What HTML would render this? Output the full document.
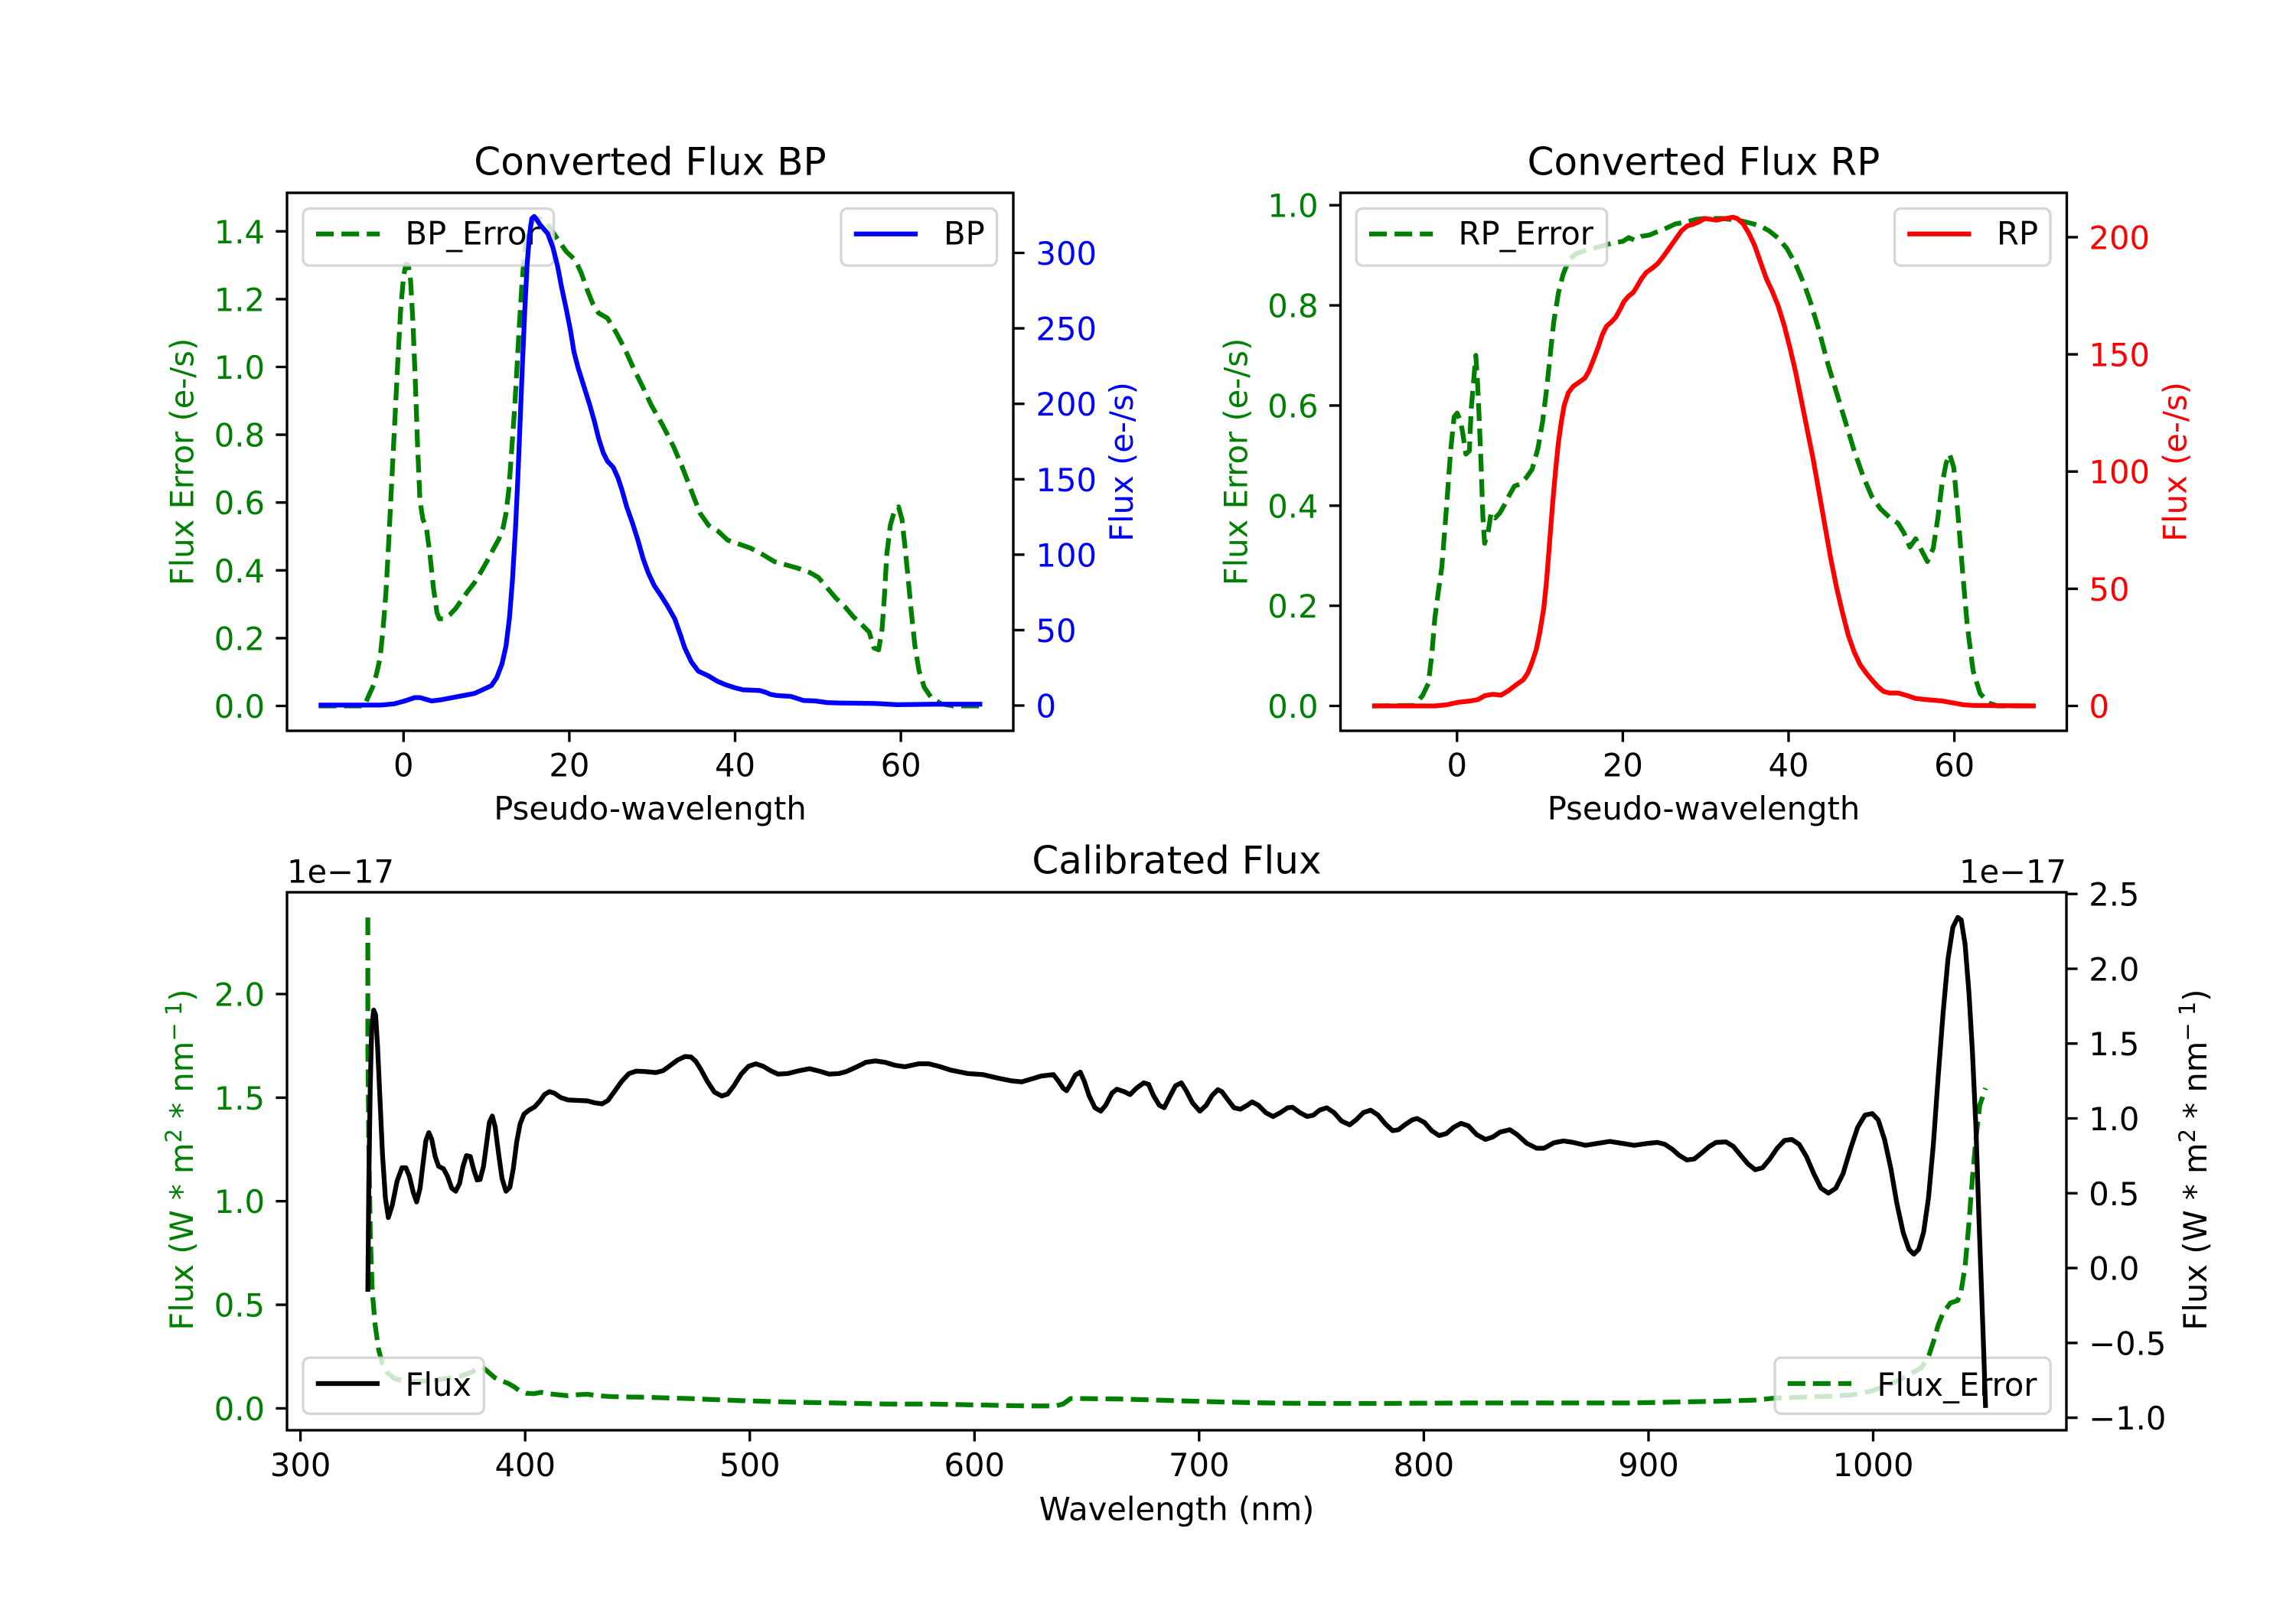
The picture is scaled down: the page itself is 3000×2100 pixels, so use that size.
<!DOCTYPE html>
<html><head><meta charset="utf-8"><style>html,body{margin:0;padding:0;background:#fff}svg{display:block}</style></head>
<body>
<svg xmlns="http://www.w3.org/2000/svg" width="3000" height="2100" viewBox="0 0 3000 2100" font-family="'DejaVu Sans', 'Liberation Sans', sans-serif">
<defs>
<clipPath id="cBP"><rect x="375" y="252" width="949" height="703"/></clipPath>
<clipPath id="cRP"><rect x="1751.5" y="252" width="949" height="703"/></clipPath>
<clipPath id="cL"><rect x="375" y="1166" width="2325" height="703"/></clipPath>
</defs>
<rect width="3000" height="2100" fill="#fff"/>

<!-- ================= BP PANEL ================= -->
<g clip-path="url(#cBP)">
<g transform="translate(300,150) scale(0.76531,0.54209)">
<polyline vector-effect="non-scaling-stroke" fill="none" stroke="#008000" stroke-width="6.25" stroke-dasharray="23.1 10" stroke-linejoin="round" points="152,1425 230,1425 237,1402 246,1374 252,1341 257,1308 262,1240 267,1150 272,1020 277,880 282,740 287,600 292,470 297,390 301,360 305,362 309,400 313,500 317,640 321,800 325,930 330,975 336,995 342,1060 348,1140 354,1200 358,1215 366,1215 376,1205 386,1190 396,1170 406,1150 418,1128 430,1100 440,1075 450,1048 460,1022 467,995 472,960 477,900 482,800 487,700 491,600 495,500 499,410 503,340 508,290 514,262 522,248 532,252 545,268 560,300 575,330 590,350 600,380 610,420 620,455 630,478 645,490 660,525 675,565 690,612 705,655 720,700 740,750 758,800 773,850 788,905 803,960 818,990 835,1005 850,1025 870,1035 890,1045 910,1060 930,1077 950,1085 970,1093 990,1103 1005,1115 1020,1140 1035,1165 1050,1185 1065,1210 1080,1230 1092,1247 1100,1285 1108,1290 1114,1240 1118,1160 1122,1060 1128,990 1135,955 1142,945 1148,975 1153,1040 1158,1110 1164,1200 1170,1280 1177,1340 1186,1380 1198,1405 1215,1420 1235,1425 1285,1425"/>
</g>
</g>
<!-- BP_Error legend (ax1) -->
<rect x="396" y="272.5" width="327.5" height="74.5" rx="8.3" fill="#fff" fill-opacity="0.8" stroke="#cccccc" stroke-opacity="0.8" stroke-width="3.33"/>
<line x1="413" y1="305.8" x2="496.3" y2="305.8" stroke="#008000" stroke-width="6.25" stroke-dasharray="23.1 10"/>
<text x="529.5" y="319.5" font-size="41.67" fill="#000">BP_Error</text>

<g clip-path="url(#cBP)">
<g transform="translate(300,150) scale(0.76531,0.54209)">
<polyline vector-effect="non-scaling-stroke" fill="none" stroke="#0000ff" stroke-width="6.25" stroke-linejoin="round" points="152,1423 258,1423 281,1420 299,1413 316,1405 325,1405 345,1413 362,1410 380,1405 403,1399 418,1395 432,1386 447,1376 456,1357 465,1324 472,1280 478,1210 483,1120 488,1000 492,880 496,740 500,600 504,470 508,360 512,290 516,250 520,245 524,252 530,265 543,286 552,320 560,365 567,417 575,470 582,520 588,572 595,610 605,655 615,700 623,740 630,780 638,815 645,835 655,850 663,875 670,905 678,945 688,985 697,1025 706,1070 715,1105 725,1135 737,1160 748,1185 760,1215 770,1255 777,1285 788,1318 800,1341 818,1353 832,1365 847,1374 862,1381 876,1386 905,1388 915,1392 923,1397 934,1400 958,1402 980,1412 1000,1413 1020,1417 1040,1418 1100,1419 1140,1422 1200,1421 1285,1421"/>
</g>
</g>
<!-- BP legend (ax2) -->
<rect x="1099" y="272.5" width="203.5" height="74.5" rx="8.3" fill="#fff" fill-opacity="0.8" stroke="#cccccc" stroke-opacity="0.8" stroke-width="3.33"/>
<line x1="1115.7" y1="305.8" x2="1199" y2="305.8" stroke="#0000ff" stroke-width="6.25"/>
<text x="1233" y="319.5" font-size="41.67" fill="#000">BP</text>

<!-- BP spines -->
<rect x="375" y="252" width="949" height="703" fill="none" stroke="#000" stroke-width="3.33"/>
<!-- BP ticks -->
<path stroke="#000" stroke-width="3.33" fill="none" d="M375 922.5h-14.6M375 833.9h-14.6M375 745.3h-14.6M375 656.7h-14.6M375 568.1h-14.6M375 479.5h-14.6M375 390.9h-14.6M375 302.3h-14.6
M1324 922h14.6M1324 823.4h14.6M1324 724.8h14.6M1324 626.3h14.6M1324 527.7h14.6M1324 429.1h14.6M1324 330.5h14.6
M527.3 955v14.6M743.9 955v14.6M960.5 955v14.6M1177.1 955v14.6"/>
<g font-size="41.67" fill="#008000" text-anchor="end">
<text x="346" y="938">0.0</text><text x="346" y="849.4">0.2</text><text x="346" y="760.8">0.4</text><text x="346" y="672.2">0.6</text><text x="346" y="583.6">0.8</text><text x="346" y="495">1.0</text><text x="346" y="406.4">1.2</text><text x="346" y="317.8">1.4</text>
</g>
<g font-size="41.67" fill="#0000ff">
<text x="1353.5" y="937.5">0</text><text x="1353.5" y="838.9">50</text><text x="1353.5" y="740.3">100</text><text x="1353.5" y="641.8">150</text><text x="1353.5" y="543.2">200</text><text x="1353.5" y="444.6">250</text><text x="1353.5" y="346">300</text>
</g>
<g font-size="41.67" fill="#000" text-anchor="middle">
<text x="527.3" y="1014.5">0</text><text x="743.9" y="1014.5">20</text><text x="960.5" y="1014.5">40</text><text x="1177.1" y="1014.5">60</text>
<text x="849.5" y="1071">Pseudo-wavelength</text>
</g>
<text x="849.5" y="228.5" font-size="50" text-anchor="middle" fill="#000">Converted Flux BP</text>
<text transform="translate(252.6,603.5) rotate(-90)" font-size="41.67" text-anchor="middle" fill="#008000">Flux Error (e-/s)</text>
<text transform="translate(1480,603.5) rotate(-90)" font-size="41.67" text-anchor="middle" fill="#0000ff">Flux (e-/s)</text>

<!-- ================= RP PANEL ================= -->
<g clip-path="url(#cRP)">
<g transform="translate(1600,150) scale(0.76531,0.54209)">
<polyline vector-effect="non-scaling-stroke" fill="none" stroke="#008000" stroke-width="6.25" stroke-dasharray="23.1 10" stroke-linejoin="round" points="252,1425 324,1424 338,1400 348,1371 354,1300 359,1214 365,1150 371,1090 376,1000 380,926 386,810 392,728 397,719 402,735 406,761 412,818 418,810 421,712 425,646 429,580 432,646 435,740 438,843 441,967 444,1033 450,1007 455,960 462,972 470,960 478,940 485,920 495,895 505,890 515,875 525,855 535,805 543,740 550,660 556,580 562,500 570,430 578,385 588,350 600,335 620,325 640,318 660,310 680,305 690,296 700,302 712,293 725,290 737,283 750,276 770,263 790,258 805,252 820,250 850,250 880,255 900,262 915,268 930,280 945,297 960,322 975,360 990,410 1000,450 1015,520 1030,600 1045,670 1060,740 1075,810 1090,870 1105,920 1120,950 1135,970 1150,985 1160,1008 1170,1042 1180,1022 1190,1050 1200,1077 1210,1045 1218,970 1225,890 1232,840 1238,818 1245,850 1252,960 1260,1100 1268,1230 1278,1340 1290,1395 1305,1418 1320,1425 1385,1425"/>
</g>
</g>
<rect x="1772.2" y="272.5" width="327.5" height="74.5" rx="8.3" fill="#fff" fill-opacity="0.8" stroke="#cccccc" stroke-opacity="0.8" stroke-width="3.33"/>
<line x1="1789" y1="305.8" x2="1872.3" y2="305.8" stroke="#008000" stroke-width="6.25" stroke-dasharray="23.1 10"/>
<text x="1905.5" y="319.5" font-size="41.67" fill="#000">RP_Error</text>

<g clip-path="url(#cRP)">
<g transform="translate(1600,150) scale(0.76531,0.54209)">
<polyline vector-effect="non-scaling-stroke" fill="none" stroke="#ff0000" stroke-width="6.25" stroke-linejoin="round" points="252,1425 360,1425 380,1422 400,1416 420,1413 432,1410 445,1400 458,1397 472,1399 485,1388 497,1375 510,1362 518,1345 525,1320 532,1290 538,1250 545,1190 550,1120 555,1030 560,940 565,860 570,790 575,740 580,700 587,670 595,655 605,645 615,635 622,618 630,590 638,560 645,530 652,510 660,500 668,488 675,470 682,450 690,437 698,428 705,412 712,395 720,380 730,370 740,358 750,340 760,320 770,300 780,280 790,268 800,264 810,258 820,250 830,252 840,254 850,251 860,249 868,247 875,250 885,262 895,285 905,315 915,355 925,395 935,425 945,460 955,505 965,560 975,620 985,690 995,760 1005,830 1015,910 1025,990 1035,1070 1045,1140 1055,1200 1065,1255 1075,1295 1085,1325 1095,1345 1105,1362 1115,1378 1125,1390 1135,1394 1150,1394 1165,1400 1180,1407 1200,1410 1225,1413 1245,1418 1260,1422 1280,1424 1385,1425"/>
</g>
</g>
<rect x="2475.5" y="272.5" width="203.5" height="74.5" rx="8.3" fill="#fff" fill-opacity="0.8" stroke="#cccccc" stroke-opacity="0.8" stroke-width="3.33"/>
<line x1="2492.2" y1="305.8" x2="2575.5" y2="305.8" stroke="#ff0000" stroke-width="6.25"/>
<text x="2609" y="319.5" font-size="41.67" fill="#000">RP</text>

<rect x="1751.5" y="252" width="949" height="703" fill="none" stroke="#000" stroke-width="3.33"/>
<path stroke="#000" stroke-width="3.33" fill="none" d="M1751.5 922.5h-14.6M1751.5 791.6h-14.6M1751.5 660.8h-14.6M1751.5 529.9h-14.6M1751.5 399.1h-14.6M1751.5 268.2h-14.6
M2700.5 922.5h14.6M2700.5 769.4h14.6M2700.5 616.2h14.6M2700.5 463.1h14.6M2700.5 309.9h14.6
M1903.8 955v14.6M2120.4 955v14.6M2337 955v14.6M2553.6 955v14.6"/>
<g font-size="41.67" fill="#008000" text-anchor="end">
<text x="1722.5" y="938">0.0</text><text x="1722.5" y="807.1">0.2</text><text x="1722.5" y="676.3">0.4</text><text x="1722.5" y="545.4">0.6</text><text x="1722.5" y="414.6">0.8</text><text x="1722.5" y="283.7">1.0</text>
</g>
<g font-size="41.67" fill="#ff0000">
<text x="2729.5" y="938">0</text><text x="2729.5" y="784.9">50</text><text x="2729.5" y="631.7">100</text><text x="2729.5" y="478.6">150</text><text x="2729.5" y="325.4">200</text>
</g>
<g font-size="41.67" fill="#000" text-anchor="middle">
<text x="1903.8" y="1014.5">0</text><text x="2120.4" y="1014.5">20</text><text x="2337" y="1014.5">40</text><text x="2553.6" y="1014.5">60</text>
<text x="2226" y="1071">Pseudo-wavelength</text>
</g>
<text x="2226" y="228.5" font-size="50" text-anchor="middle" fill="#000">Converted Flux RP</text>
<text transform="translate(1629.5,603.5) rotate(-90)" font-size="41.67" text-anchor="middle" fill="#008000">Flux Error (e-/s)</text>
<text transform="translate(2856.7,603.5) rotate(-90)" font-size="41.67" text-anchor="middle" fill="#ff0000">Flux (e-/s)</text>

<!-- ================= CALIBRATED PANEL ================= -->
<g clip-path="url(#cL)">
<g transform="translate(200,1100) scale(0.63776)">
<polyline vector-effect="non-scaling-stroke" fill="none" stroke="#008000" stroke-width="6.25" stroke-dasharray="23.1 10" stroke-linejoin="round" points="440,155 440,420 442,620 445,800 449,920 455,990 462,1040 470,1070 480,1088 495,1100 515,1105 540,1106 570,1104 600,1100 630,1095 650,1088 665,1080 675,1077 685,1085 700,1098 715,1105 728,1110 740,1117 752,1126 765,1130 780,1131 795,1128 810,1131 830,1133 850,1135 870,1133 890,1132 910,1135 940,1137 1000,1138 1100,1141 1200,1145 1300,1148 1400,1150 1500,1152 1589.6,1152 1689.6,1154 1789.6,1156 1849.6,1156 1864.6,1152 1879.6,1141 1909.6,1141 1989.6,1142 2089.6,1145 2189.6,1148 2289.6,1150 2389.6,1151 2489.6,1151 2689.6,1150 2889.6,1150 3022.4,1150 3122.4,1148 3222.4,1146 3282.4,1144 3322.4,1140 3382.4,1138 3442.4,1136 3482.4,1133 3522.4,1125 3562.4,1110 3592.4,1095 3622.4,1078 3637.4,1055 3647.4,1025 3657.4,990 3667.4,965 3682.4,945 3697.4,940 3704.4,920 3712.4,870 3720.4,780 3727.4,690 3734.4,610 3742.4,540 3754.4,505"/>
</g>
</g>
<!-- Flux_Error legend (ax1) -->
<rect x="2319" y="1774.2" width="360.2" height="73.2" rx="8.3" fill="#fff" fill-opacity="0.8" stroke="#cccccc" stroke-opacity="0.8" stroke-width="3.33"/>
<line x1="2335.7" y1="1808" x2="2419" y2="1808" stroke="#008000" stroke-width="6.25" stroke-dasharray="23.1 10"/>
<text x="2452.5" y="1823.8" font-size="41.67" fill="#000">Flux_Error</text>

<g clip-path="url(#cL)">
<g transform="translate(200,1100) scale(0.63776)">
<polyline vector-effect="non-scaling-stroke" fill="none" stroke="#000" stroke-width="6.25" stroke-linejoin="round" points="440,922 442,700 445,500 448,380 452,345 456,355 460,420 465,530 470,640 476,730 482,770 490,745 500,695 510,668 518,668 525,685 533,718 540,738 547,710 553,660 559,612 565,596 571,610 578,645 585,665 595,670 603,685 612,710 620,716 628,700 635,665 642,643 650,645 657,672 664,693 670,692 677,665 683,620 689,575 695,562 701,585 708,640 715,690 723,716 731,708 738,670 745,615 752,578 760,558 770,550 782,543 792,532 802,518 812,512 822,515 835,524 850,529 870,530 890,531 905,535 920,537 932,530 945,512 960,491 975,475 990,470 1010,471 1030,473 1045,469 1060,458 1075,447 1090,440 1102,441 1112,450 1122,466 1135,490 1150,513 1165,521 1177,517 1190,500 1205,476 1220,460 1235,455 1250,460 1265,469 1280,476 1300,475 1320,470 1345,465 1365,470 1385,476 1405,475 1420,471 1440,462 1460,452 1480,449 1500,452 1520,458 1540,461 1568,455 1589.6,455 1609.6,460 1634.6,468 1669.6,475 1699.6,477 1729.6,484 1759.6,490 1779.6,492 1799.6,486 1819.6,480 1844.6,477 1854.6,490 1864.6,505 1871.6,510 1879.6,497 1889.6,478 1899.6,472 1907.6,490 1917.6,520 1929.6,545 1941.6,552 1951.6,540 1964.6,515 1974.6,507 1989.6,512 2001.6,518 2014.6,505 2029.6,494 2039.6,497 2049.6,520 2061.6,540 2071.6,545 2081.6,525 2094.6,500 2106.6,494 2116.6,510 2129.6,535 2144.6,552 2157.6,540 2169.6,520 2181.6,508 2189.6,512 2201.6,528 2214.6,545 2227.6,548 2241.6,540 2251.6,533 2264.6,540 2279.6,555 2294.6,563 2309.6,555 2324.6,545 2334.6,544 2349.6,555 2364.6,563 2377.6,560 2389.6,550 2404.6,545 2419.6,555 2434.6,572 2451.6,580 2464.6,570 2479.6,555 2494.6,550 2509.6,560 2524.6,578 2539.6,592 2551.6,590 2564.6,580 2579.6,570 2589.6,567 2604.6,575 2619.6,592 2634.6,602 2649.6,598 2664.6,585 2679.6,577 2694.6,582 2711.6,600 2729.6,610 2744.6,605 2759.6,595 2779.6,590 2794.6,600 2814.6,618 2834.6,628 2849.6,628 2869.6,617 2889.6,613 2909.6,616 2934.6,622 2959.6,618 2984.6,614 3009.6,618 3034.6,622 3062.4,618 3082.4,616 3097.4,620 3112.4,630 3127.4,643 3142.4,652 3157.4,650 3172.4,638 3187.4,625 3202.4,616 3222.4,615 3237.4,624 3252.4,642 3267.4,660 3282.4,672 3297.4,668 3312.4,650 3327.4,628 3342.4,612 3357.4,610 3372.4,620 3387.4,645 3402.4,680 3417.4,710 3432.4,720 3447.4,710 3462.4,680 3477.4,630 3492.4,585 3507.4,560 3522.4,557 3534.4,570 3547.4,610 3560.4,670 3572.4,740 3585.4,800 3597.4,835 3607.4,845 3617.4,835 3627.4,800 3637.4,730 3647.4,620 3657.4,480 3667.4,350 3677.4,240 3687.4,175 3697.4,155 3704.4,160 3712.4,210 3720.4,310 3727.4,430 3734.4,580 3740.4,760 3745.4,900 3750.4,1040 3754.4,1160"/>
</g>
</g>
<!-- Flux legend (ax2) -->
<rect x="396" y="1774.2" width="236.4" height="73.2" rx="8.3" fill="#fff" fill-opacity="0.8" stroke="#cccccc" stroke-opacity="0.8" stroke-width="3.33"/>
<line x1="412.7" y1="1808" x2="496" y2="1808" stroke="#000" stroke-width="6.25"/>
<text x="529.5" y="1823.8" font-size="41.67" fill="#000">Flux</text>

<rect x="375" y="1166" width="2325" height="703" fill="none" stroke="#000" stroke-width="3.33"/>
<path stroke="#000" stroke-width="3.33" fill="none" d="M375 1840.4h-14.6M375 1705.1h-14.6M375 1569.7h-14.6M375 1434.4h-14.6M375 1299h-14.6
M2700 1168.2h14.6M2700 1266h14.6M2700 1363.7h14.6M2700 1461.5h14.6M2700 1559.3h14.6M2700 1657.1h14.6M2700 1754.9h14.6M2700 1852.7h14.6
M392.6 1869v14.6M686.2 1869v14.6M979.7 1869v14.6M1273.3 1869v14.6M1566.8 1869v14.6M1860.4 1869v14.6M2154 1869v14.6M2447.5 1869v14.6"/>
<g font-size="41.67" fill="#008000" text-anchor="end">
<text x="346" y="1855.9">0.0</text><text x="346" y="1720.6">0.5</text><text x="346" y="1585.2">1.0</text><text x="346" y="1449.9">1.5</text><text x="346" y="1314.5">2.0</text>
</g>
<g font-size="41.67" fill="#000">
<text x="2729.2" y="1183.7">2.5</text><text x="2729.2" y="1281.5">2.0</text><text x="2729.2" y="1379.2">1.5</text><text x="2729.2" y="1477">1.0</text><text x="2729.2" y="1574.8">0.5</text><text x="2729.2" y="1672.6">0.0</text><text x="2729.2" y="1770.4">−0.5</text><text x="2729.2" y="1868.2">−1.0</text>
</g>
<g font-size="41.67" fill="#000" text-anchor="middle">
<text x="392.6" y="1929">300</text><text x="686.2" y="1929">400</text><text x="979.7" y="1929">500</text><text x="1273.3" y="1929">600</text><text x="1566.8" y="1929">700</text><text x="1860.4" y="1929">800</text><text x="2154" y="1929">900</text><text x="2447.5" y="1929">1000</text>
<text x="1537.5" y="1986.5">Wavelength (nm)</text>
</g>
<text x="1537.5" y="1141.5" font-size="50" text-anchor="middle" fill="#000">Calibrated Flux</text>
<text x="375" y="1153.6" font-size="41.67" fill="#000">1e−17</text>
<text x="2700" y="1153.6" font-size="41.67" fill="#000" text-anchor="end">1e−17</text>
<text transform="translate(252,1515.5) rotate(-90)" font-size="41.67" text-anchor="middle" fill="#008000">Flux (W * m<tspan font-size="29" baseline-shift="15">2</tspan> * nm<tspan font-size="29" baseline-shift="15">− 1</tspan>)</text>
<text transform="translate(2883,1515.5) rotate(-90)" font-size="41.67" text-anchor="middle" fill="#000">Flux (W * m<tspan font-size="29" baseline-shift="15">2</tspan> * nm<tspan font-size="29" baseline-shift="15">− 1</tspan>)</text>
</svg>
</body></html>
